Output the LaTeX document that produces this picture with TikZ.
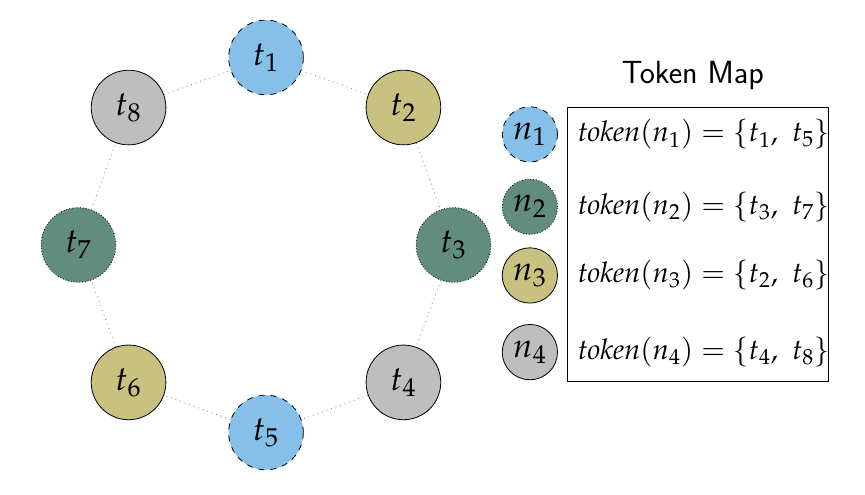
\documentclass[tikz,border=0pt]{standalone}
\usepackage{mathpazo}
\definecolor{nblue}{RGB}{134,192,233}
\definecolor{ngreen}{RGB}{98,141,126}
\definecolor{nolive}{RGB}{200,193,128}
\definecolor{ngray}{RGB}{190,190,190}
\begin{document}
\begin{tikzpicture}[
	tok/.style={draw,shape=circle,minimum size=1.31cm,inner sep=0pt,font=\fontsize{17}{20}\selectfont},
	leg/.style={draw,shape=circle,minimum size=0.97cm,inner sep=0pt,font=\fontsize{17}{20}\selectfont},
	nA/.style={fill=nblue,dashed},
	nB/.style={fill=ngreen,densely dotted},
	nC/.style={fill=nolive},
	nD/.style={fill=ngray}]
	\useasboundingbox (-4.667,-4.386) rectangle (10.51,4.298);
	\foreach \x/\s/\r in {1/nA/3.29,2/nC/3.41,3/nB/3.29,4/nD/3.41,5/nA/3.29,6/nC/3.41,7/nB/3.29,8/nD/3.41}{
		\node[tok,\s,name=t\x] at ({135-45*\x}:\r){$t_{\x}$};
	}
	\foreach \x/\y in {1/2,2/3,3/4,4/5,5/6,6/7,7/8,8/1}{
		\draw[gray,dotted] (t\x)--(t\y);
	}
	\node[font=\sffamily\fontsize{16}{19}\selectfont,name=title] at (7.49,2.98){Token Map};
	\draw (5.28,2.42) rectangle (9.86,-2.40);
	\foreach \y/\s/\a/\b [count=\i] in {1.94/nA/1/5,0.67/nB/3/7,-0.535/nC/2/6,-1.88/nD/4/8}{
		\node[leg,\s,name=n\i] at (4.63,\y){$n_{\i}$};
		\node[anchor=west,inner sep=0pt,font=\fontsize{14.3}{17}\selectfont,name=m\i] at (5.47,\y){$\mathit{token}(n_{\i}) = \{t_{\a},\ t_{\b}\}$};
	}
\end{tikzpicture}
\end{document}
